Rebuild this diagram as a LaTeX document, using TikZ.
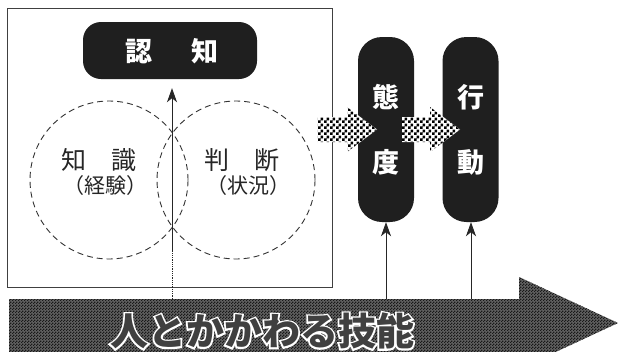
\documentclass[tikz,border=0pt]{standalone}
\usepackage{fontspec}
\newfontfamily\jp{Noto Sans CJK JP}
\newfontfamily\jpout{Noto Sans CJK JP}[BoldFeatures={FakeBold=9}]
\usetikzlibrary{arrows.meta,patterns}
\pgfdeclarepatternformonly{chk}{\pgfpointorigin}{\pgfqpoint{6pt}{6pt}}{\pgfqpoint{6pt}{6pt}}{%
  \pgfpathrectangle{\pgfpointorigin}{\pgfqpoint{3pt}{3pt}}%
  \pgfpathrectangle{\pgfqpoint{3pt}{3pt}}{\pgfqpoint{3pt}{3pt}}%
  \pgfusepath{fill}}
\pgfdeclarepatternformonly{finechk}{\pgfpointorigin}{\pgfqpoint{3pt}{3pt}}{\pgfqpoint{3pt}{3pt}}{%
  \pgfpathrectangle{\pgfpointorigin}{\pgfqpoint{1.5pt}{1.5pt}}%
  \pgfpathrectangle{\pgfqpoint{1.5pt}{1.5pt}}{\pgfqpoint{1.5pt}{1.5pt}}%
  \pgfusepath{fill}}
\tikzset{
  darkbox/.style={fill=black!88, draw=none, inner sep=0pt},
  wtext/.style={text=white, font=\jp\bfseries\fontsize{27pt}{27pt}\selectfont, inner sep=0pt},
  lbl/.style={text=black!85, font=\jp\fontsize{25pt}{25pt}\selectfont, inner sep=0pt},
  sublbl/.style={text=black!85, font=\jp\fontsize{21pt}{21pt}\selectfont, inner sep=0pt},
  dcirc/.style={circle, draw=black!80, line width=0.9pt, dash pattern=on 6pt off 4pt, minimum size=158pt, inner sep=0pt},
  conn/.style={draw=black!85, line width=0.8pt, -{Stealth[length=14pt,width=10pt,inset=4pt]}},
  checkarrow/.style={pattern=chk, pattern color=black},
  bandfont/.style={font=\jpout\bfseries\fontsize{38pt}{38pt}\selectfont, inner sep=0pt},
}
\begin{document}
\begin{tikzpicture}[x=1pt,y=-1pt]
\useasboundingbox (0,0) rectangle (618,351);
\clip (0,0) rectangle (618,351);
\fill[white] (0,0) rectangle (618,351);

% frame
\node[draw=black!75, line width=0.9pt, minimum width=325pt, minimum height=279pt, anchor=north west, inner sep=0pt] (frame) at (7,8) {};

% dashed circles
\node[dcirc] (chishikiC) at (109,180) {};
\node[dcirc] (handanC) at (236,180) {};

\node[lbl] (chishiki) at (99,160) {知\hspace{1em}識};
\node[sublbl] (keiken) at (105,186) {（経験）};
\node[lbl] (handan) at (242,160) {判\hspace{1em}断};
\node[sublbl] (jokyo) at (248,186) {（状況）};

% cognition
\node[darkbox, minimum width=174pt, minimum height=57pt, rounded corners=18pt] (ninchi) at (170,50.5) {};
\node[wtext] (ninchiT) at (172,51) {認\hspace{1.45em}知};

% attitude / action
\node[darkbox, minimum width=56pt, minimum height=185pt, rounded corners=24pt] (taido) at (386,129.5) {};
\node[wtext] (taiT) at (386,97) {態};
\node[wtext] (doT) at (386,162) {度};
\node[darkbox, minimum width=56pt, minimum height=185pt, rounded corners=24pt] (kodo) at (470.5,129.5) {};
\node[wtext] (koT) at (471,97) {行};
\node[wtext] (dooT) at (471,162) {動};

% checkered arrows
\fill[white] (317,117) -- (347,117) -- (347,107) -- (377,129.5) -- (347,152) -- (347,142) -- (317,142) -- cycle;
\fill[checkarrow] (317,117) -- (347,117) -- (347,107) -- (377,129.5) -- (347,152) -- (347,142) -- (317,142) -- cycle;
\fill[white] (402,117) -- (430,117) -- (430,107) -- (460,129.5) -- (430,152) -- (430,142) -- (402,142) -- cycle;
\fill[checkarrow] (402,117) -- (430,117) -- (430,107) -- (460,129.5) -- (430,152) -- (430,142) -- (402,142) -- cycle;

% big band arrow
\fill[black!62] (9,299) -- (519,299) -- (519,277) -- (618,323) -- (519,369) -- (519,356) -- (9,356) -- cycle;
\fill[pattern=finechk, pattern color=black!90] (9,299) -- (519,299) -- (519,277) -- (618,323) -- (519,369) -- (519,356) -- (9,356) -- cycle;
\node[bandfont, text=white] (bandW) at (262,331) {人とかかわる技能};
\node[font=\jp\bfseries\fontsize{38pt}{38pt}\selectfont, inner sep=0pt, text=black!75] (band) at (262,331) {人とかかわる技能};

% connectors
\coordinate (b0) at (172,299);
\coordinate (m0) at (172,250);
\coordinate (b1) at (386,299);
\coordinate (b2) at (471,299);
\draw[black!85, line width=0.8pt, densely dotted] (b0) -- (m0);
\draw[conn, shorten >=9pt] (m0) -- (m0 |- ninchi.south);
\draw[conn] (b1) -- (taido.south);
\draw[conn] (b2) -- (b2 |- kodo.south);
\end{tikzpicture}
\end{document}
